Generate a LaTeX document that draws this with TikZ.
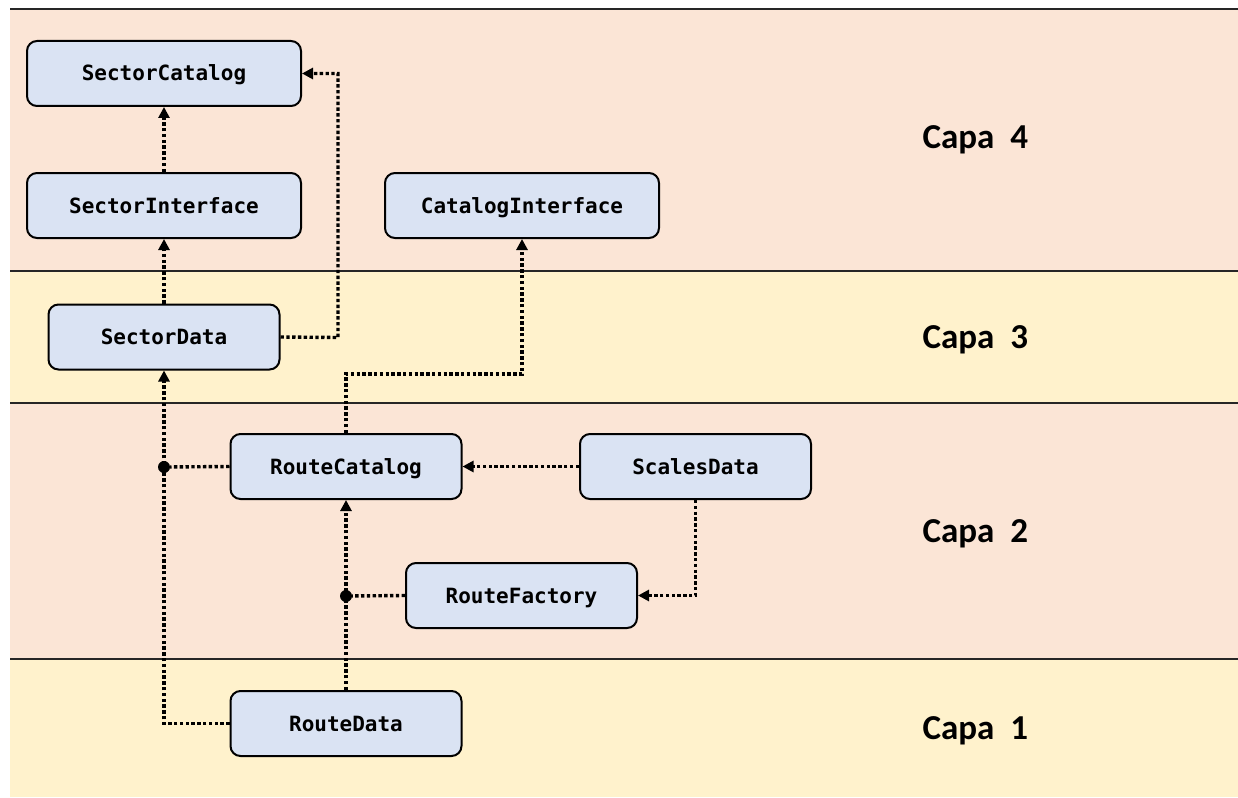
\documentclass[tikz,border=0pt]{standalone}
\usepackage{fontspec}
\setmonofont{DejaVu Sans Mono}
\newfontfamily\capafont{Carlito}
\usetikzlibrary{arrows.meta}
\definecolor{bandpink}{HTML}{FBE5D6}
\definecolor{bandyellow}{HTML}{FFF2CC}
\definecolor{boxblue}{HTML}{DAE3F3}
\begin{document}
\begin{tikzpicture}[x=1pt,y=-1pt,
  cls/.style={draw=black, line width=2pt, fill=boxblue, rounded corners=10pt,
    minimum width=231pt, minimum height=65pt, inner sep=0pt,
    text height=15pt, text depth=0pt,
    font=\ttfamily\bfseries\fontsize{21}{24}\selectfont},
  wide/.style={cls, minimum width=274pt},
  dep/.style={line width=3.4pt, dash pattern=on 3.4pt off 2.4pt, line cap=butt},
  depa/.style={dep, -{Triangle[length=11pt,width=11pt]}},
  junction/.style={circle, fill=black, inner sep=0pt, minimum size=12pt},
  layer/.style={font=\capafont\bfseries\fontsize{35}{40}\selectfont, anchor=west},
  sep/.style={line width=2pt, draw=black!85}]
\useasboundingbox (0,0) rectangle (1238,797);
% layer bands
\fill[bandpink]   (10,9)   rectangle (1238,271);
\fill[bandyellow] (10,271) rectangle (1238,403);
\fill[bandpink]   (10,403) rectangle (1238,659);
\fill[bandyellow] (10,659) rectangle (1238,797);
\draw[sep] (10,9) -- (1238,9);
\draw[sep] (10,271) -- (1238,271);
\draw[sep] (10,403) -- (1238,403);
\draw[sep] (10,659) -- (1238,659);
% layer labels
\node[layer] (c4) at (919,140) {Capa\ \ 4};
\node[layer] (c3) at (919,340) {Capa\ \ 3};
\node[layer] (c2) at (919,534) {Capa\ \ 2};
\node[layer] (c1) at (919,731) {Capa\ \ 1};
% classes
\node[wide] (sc)  at (164,73.5)  {SectorCatalog};
\node[wide] (si)  at (164,205.5) {SectorInterface};
\node[wide] (ci)  at (522,205.5) {CatalogInterface};
\node[cls]  (sd)  at (164,337)   {SectorData};
\node[cls]  (rc)  at (346,466.5) {RouteCatalog};
\node[cls]  (scd) at (695.5,466.5) {ScalesData};
\node[cls]  (rf)  at (521.5,595.5) {RouteFactory};
\node[cls]  (rd)  at (346,723.5) {RouteData};
% junction points
\node[junction] (j1) at (164,467) {};
\node[junction] (j2) at (346,596) {};
\coordinate (sdr) at (338,337.5);
\coordinate (rcu) at (346,374);
\coordinate (ciu) at (522,374);
\coordinate (rdl) at (164,723.5);
% dependencies
\draw[depa] (si.north) -- (sc.south);
\draw[depa] (sd.north) -- (si.south);
\draw[depa] (sd.east) -- (sdr) |- (sc.east);
\draw[depa] (rc.north) -- (rcu) -- (ciu) -- (ci.south);
\draw[depa] (rd.west) -- (rdl) -- (sd.south);
\draw[dep]  (rc.west) -- (j1);
\draw[depa] (scd.west) -- (rc.east);
\draw[depa] (scd.south) |- (rf.east);
\draw[depa] (rd.north) -- (rc.south);
\draw[dep]  (rf.west) -- (j2);
\end{tikzpicture}
\end{document}
